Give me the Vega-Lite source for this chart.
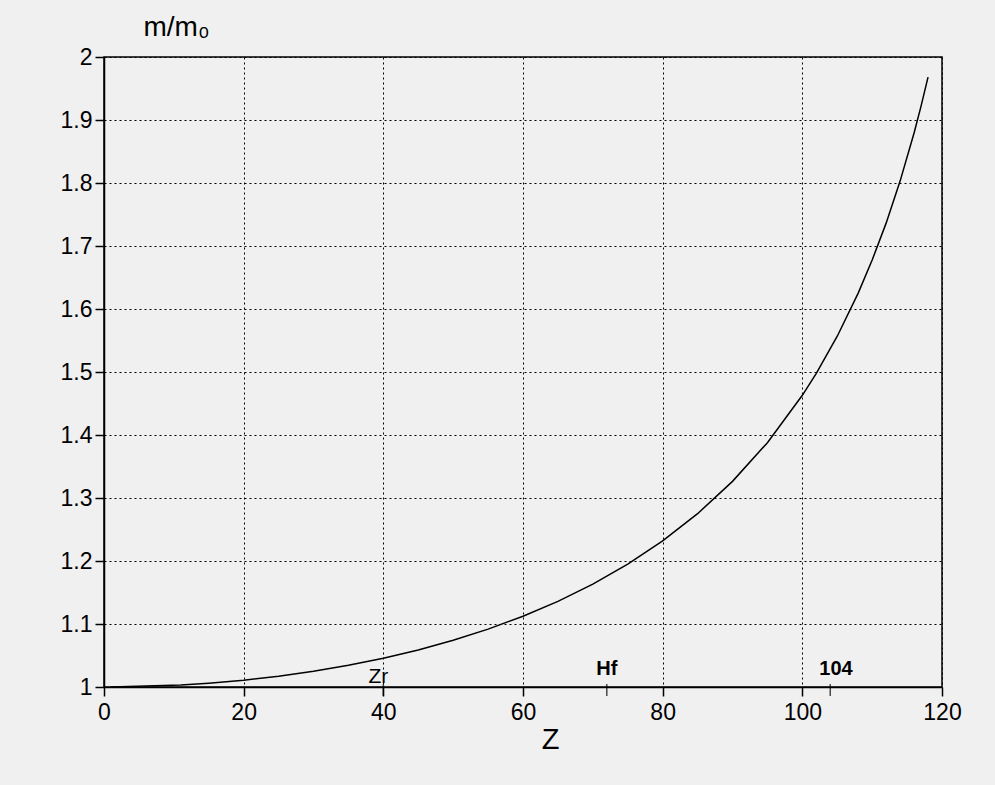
{
  "$schema": "https://vega.github.io/schema/vega-lite/v6.json",
  "width": 838,
  "height": 630,
  "autosize": {"type": "none"},
  "padding": {"left": 104, "top": 57, "right": 53, "bottom": 98},
  "background": "#f0f0f0",
  "config": {
    "font": "Liberation Sans",
    "view": {"stroke": "black", "strokeWidth": 1.5},
    "axis": {
      "domainColor": "black",
      "domainWidth": 1.5,
      "tickColor": "black",
      "tickWidth": 1.5,
      "tickSize": 9,
      "gridColor": "black",
      "gridOpacity": 1,
      "gridWidth": 1,
      "gridDash": [2, 3],
      "labelColor": "black",
      "labelFontSize": 23,
      "labelFont": "Liberation Sans",
      "titleColor": "black",
      "titleFont": "Liberation Sans",
      "titleFontWeight": "normal"
    }
  },
  "datasets": {
    "curve": [
      {"Z": 1, "m": 1.0000},
      {"Z": 11, "m": 1.0032},
      {"Z": 15, "m": 1.0061},
      {"Z": 20, "m": 1.0108},
      {"Z": 25, "m": 1.0171},
      {"Z": 30, "m": 1.0249},
      {"Z": 35, "m": 1.0344},
      {"Z": 40, "m": 1.0455},
      {"Z": 45, "m": 1.0588},
      {"Z": 50, "m": 1.0741},
      {"Z": 55, "m": 1.0919},
      {"Z": 60, "m": 1.1124},
      {"Z": 65, "m": 1.1360},
      {"Z": 70, "m": 1.1633},
      {"Z": 75, "m": 1.1950},
      {"Z": 80, "m": 1.2319},
      {"Z": 85, "m": 1.2751},
      {"Z": 90, "m": 1.3264},
      {"Z": 95, "m": 1.3878},
      {"Z": 100, "m": 1.4630},
      {"Z": 102, "m": 1.4979},
      {"Z": 105, "m": 1.5568},
      {"Z": 108, "m": 1.6252},
      {"Z": 110, "m": 1.6777},
      {"Z": 112, "m": 1.7363},
      {"Z": 114, "m": 1.8030},
      {"Z": 116, "m": 1.8794},
      {"Z": 117, "m": 1.9220},
      {"Z": 118, "m": 1.9680}
    ],
    "markers": [
      {"Z": 40, "label": "Zr"},
      {"Z": 72, "label": "Hf"},
      {"Z": 104, "label": "104"}
    ]
  },
  "layer": [
    {
      "data": {"name": "curve"},
      "mark": {"type": "line", "color": "black", "strokeWidth": 1.5},
      "encoding": {
        "x": {
          "field": "Z",
          "type": "quantitative",
          "scale": {"domain": [0, 120], "nice": false, "zero": false},
          "axis": {
            "values": [0, 20, 40, 60, 80, 100, 120],
            "labelPadding": 5,
            "labelFlush": false,
            "title": "Z",
            "titleFontSize": 29,
            "titleX": 446,
            "titleY": 61,
            "titleAnchor": null,
            "titleAlign": "center",
            "titleBaseline": "alphabetic"
          }
        },
        "y": {
          "field": "m",
          "type": "quantitative",
          "scale": {"domain": [1, 2], "nice": false, "zero": false},
          "axis": {
            "values": [1, 1.1, 1.2, 1.3, 1.4, 1.5, 1.6, 1.7, 1.8, 1.9, 2],
            "format": "~g",
            "labelPadding": 3,
            "labelFlush": false,
            "title": "m/m₀",
            "titleFontSize": 28,
            "titleAngle": 0,
            "titleAlign": "left",
            "titleBaseline": "alphabetic",
            "titleX": 39,
            "titleY": -22
          }
        }
      }
    },
    {
      "data": {"name": "markers"},
      "mark": {"type": "tick", "orient": "vertical", "color": "black", "size": 12, "thickness": 1.5, "yOffset": 3},
      "encoding": {
        "x": {"field": "Z", "type": "quantitative"},
        "y": {"datum": 1, "type": "quantitative"}
      }
    },
    {
      "data": {"name": "markers"},
      "transform": [{"filter": "datum.label === 'Zr'"}],
      "mark": {"type": "text", "fontSize": 21, "color": "black", "align": "center", "baseline": "alphabetic", "dx": -5, "dy": -4, "font": "Liberation Sans"},
      "encoding": {
        "x": {"field": "Z", "type": "quantitative"},
        "y": {"datum": 1, "type": "quantitative"},
        "text": {"field": "label"}
      }
    },
    {
      "data": {"name": "markers"},
      "transform": [{"filter": "datum.label === 'Hf'"}],
      "mark": {"type": "text", "fontSize": 20, "fontWeight": "bold", "color": "black", "align": "center", "baseline": "alphabetic", "dy": -12, "font": "Liberation Sans"},
      "encoding": {
        "x": {"field": "Z", "type": "quantitative"},
        "y": {"datum": 1, "type": "quantitative"},
        "text": {"field": "label"}
      }
    },
    {
      "data": {"name": "markers"},
      "transform": [{"filter": "datum.label === '104'"}],
      "mark": {"type": "text", "fontSize": 20, "fontWeight": "bold", "color": "black", "align": "left", "baseline": "alphabetic", "dx": -11, "dy": -12, "font": "Liberation Sans"},
      "encoding": {
        "x": {"field": "Z", "type": "quantitative"},
        "y": {"datum": 1, "type": "quantitative"},
        "text": {"field": "label"}
      }
    }
  ]
}
